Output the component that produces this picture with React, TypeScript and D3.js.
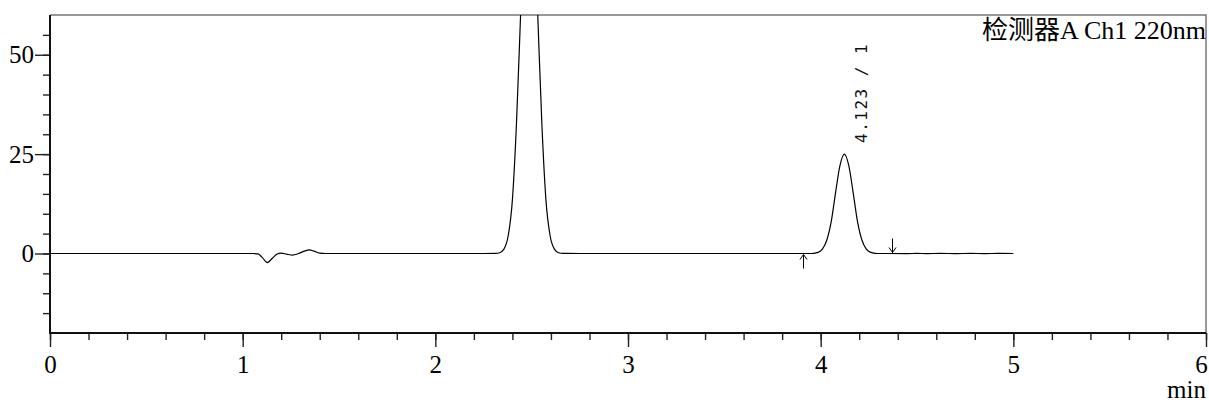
import * as d3 from "d3";
import { useEffect, useRef } from "react";

// chromatogram trace: [time (min), signal]
const traceTime = [
  0, 0.8, 1.05, 1.08, 1.1, 1.128, 1.15, 1.177, 1.2, 1.23, 1.26, 1.29, 1.32, 1.346, 1.37, 1.4, 1.43,
  2.25, 2.312, 2.334, 2.356, 2.378, 2.4, 2.421, 2.443, 2.465, 2.487, 2.509, 2.531, 2.553, 2.574, 2.596,
  2.618, 2.64, 2.662, 2.75,
  3.9, 3.941, 3.963, 3.986, 4.009, 4.032, 4.055, 4.077, 4.1, 4.123, 4.146, 4.169, 4.191, 4.214, 4.237,
  4.26, 4.283, 4.305, 4.35,
  4.45, 4.5, 4.55, 4.62, 4.7, 4.78, 4.85, 4.92, 5.0,
];
const traceSignal = [
  0, 0, 0, -0.1, -0.9, -2.3, -1.4, -0.2, 0.1, -0.2, -0.4, 0, 0.6, 0.9, 0.6, 0.1, 0,
  0, 0.03, 0.2, 1.1, 4.4, 13.5, 32.5, 60.7, 88.2, 100, 88.2, 60.7, 32.5, 13.5, 4.4,
  1.1, 0.2, 0.03, 0,
  0, 0, 0.05, 0.28, 1.1, 3.4, 8.1, 15.2, 22.1, 25, 22.1, 15.2, 8.1, 3.4, 1.1,
  0.28, 0.05, 0, 0,
  -0.04, 0.04, -0.04, 0.04, -0.04, 0.03, -0.04, 0.03, 0,
];

// integration markers: time, direction
const markerTime = [3.91, 4.372];
const markerDir = ["up", "down"];

// peak annotation
const peakTime = [4.123];
const peakLabel = ["4.123 / 1"];

const xMajor = [0, 1, 2, 3, 4, 5, 6];
const xLabels = ["0", "1", "2", "3", "4", "5", "6"];
const xMinor = d3.range(0, 6.001, 0.2);
const yMajor = [0, 25, 50];
const yLabels = ["0", "25", "50"];
const yMinor = d3.range(-15, 56, 5);

const title = "检测器A Ch1 220nm";
const xUnit = "min";

const App = () => {
  const svgRef = useRef<SVGSVGElement>(null);

  useEffect(() => {
    const svg = d3.select(svgRef.current);
    svg.selectAll("*").remove();

    const width = 1209,
      height = 403,
      left = 50,
      top = 15,
      right = 1206,
      bottom = 333;

    const serif = "Liberation Serif";

    const x = d3.scaleLinear().domain([0, 6]).range([left, right]);
    const y = d3.scaleLinear().domain([-20, 60]).range([bottom, top]);

    svg.attr("width", width).attr("height", height);

    // clip for the trace (main peak runs off-scale)
    svg
      .append("clipPath")
      .attr("id", "plotclip")
      .append("rect")
      .attr("x", left)
      .attr("y", top)
      .attr("width", right - left)
      .attr("height", bottom - top);

    // x axis ticks (pointing down)
    const xMinorAxis = d3
      .axisBottom(x)
      .tickValues(xMinor)
      .tickSize(7)
      .tickFormat(() => "");
    const xMajorAxis = d3
      .axisBottom(x)
      .tickValues(xMajor)
      .tickSize(14)
      .tickPadding(8)
      .tickFormat((d, i) => xLabels[i]);

    const gx1 = svg.append("g").attr("transform", `translate(0,${bottom})`).call(xMinorAxis);
    const gx2 = svg.append("g").attr("transform", `translate(0,${bottom})`).call(xMajorAxis);

    // y axis ticks
    const yMinorAxis = d3
      .axisLeft(y)
      .tickValues(yMinor)
      .tickSize(7)
      .tickFormat(() => "");
    const yMajorAxis = d3
      .axisLeft(y)
      .tickValues(yMajor)
      .tickSize(15)
      .tickPadding(1)
      .tickFormat((d, i) => yLabels[i]);

    const gy1 = svg.append("g").attr("transform", `translate(${left},0)`).call(yMinorAxis);
    const gy2 = svg.append("g").attr("transform", `translate(${left},0)`).call(yMajorAxis);

    [gx1, gx2, gy1, gy2].forEach((g) => {
      g.attr("font-family", serif).attr("font-size", 25);
      g.select(".domain").remove();
      g.selectAll("line").attr("stroke", "#222").attr("stroke-width", 1.4);
      g.selectAll("text").style("font-family", serif).style("font-size", "25px").attr("fill", "#000");
    });
    // last label sits against the right edge
    gx2.selectAll("text").filter((d) => d === 6).attr("dx", -5);

    // frame: top/right gray, left/bottom black
    svg
      .append("path")
      .attr("d", `M${left},${top}H${right}V${bottom}`)
      .attr("fill", "none")
      .attr("stroke", "#777")
      .attr("stroke-width", 1.5);
    svg
      .append("path")
      .attr("d", `M${left},${top}V${bottom}H${right}`)
      .attr("fill", "none")
      .attr("stroke", "#111")
      .attr("stroke-width", 2);

    // trace
    const pts = traceTime.map((t, i) => [t, traceSignal[i]] as [number, number]);
    const line = d3
      .line<[number, number]>()
      .x((d) => x(d[0]))
      .y((d) => y(d[1]))
      .curve(d3.curveMonotoneX);

    svg
      .append("path")
      .attr("clip-path", "url(#plotclip)")
      .attr("d", line(pts))
      .attr("fill", "none")
      .attr("stroke", "#000")
      .attr("stroke-width", 1.2);

    // integration markers
    markerTime.forEach((t, i) => {
      const mx = Math.round(x(t)) + 0.5;
      const y0 = y(0);
      const g = svg.append("g").attr("stroke", "#000").attr("stroke-width", 1).attr("fill", "none");
      if (markerDir[i] === "up") {
        g.append("path").attr("d", `M${mx},${y0 + 15}V${y0 + 1}M${mx - 3.5},${y0 + 6}L${mx},${y0 + 1}L${mx + 3.5},${y0 + 6}`);
      } else {
        g.append("path").attr("d", `M${mx},${y0 - 15}V${y0 - 1}M${mx - 3.5},${y0 - 6}L${mx},${y0 - 1}L${mx + 3.5},${y0 - 6}`);
      }
    });

    // peak label (rotated)
    peakTime.forEach((t, i) => {
      svg
        .append("text")
        .attr("transform", `translate(${x(t) + 23},143) rotate(-90)`)
        .attr("font-family", "'DejaVu Sans Mono', monospace")
        .attr("font-size", 16)
        .attr("letter-spacing", 1.5)
        .attr("fill", "#111")
        .text(peakLabel[i]);
    });

    // title and unit
    svg
      .append("text")
      .attr("x", right)
      .attr("y", 39)
      .attr("text-anchor", "end")
      .style("font-family", `'Liberation Serif', 'Noto Sans CJK SC'`)
      .style("font-size", "26px")
      .attr("fill", "#000")
      .text(title);

    svg
      .append("text")
      .attr("x", right)
      .attr("y", 398)
      .attr("text-anchor", "end")
      .style("font-family", serif)
      .style("font-size", "25px")
      .attr("fill", "#000")
      .text(xUnit);
  }, []);

  return (
    <div style={{ position: "absolute", left: 0, top: 0 }}>
      <svg ref={svgRef} width="1209" height="403"></svg>
    </div>
  );
};

export default App;
